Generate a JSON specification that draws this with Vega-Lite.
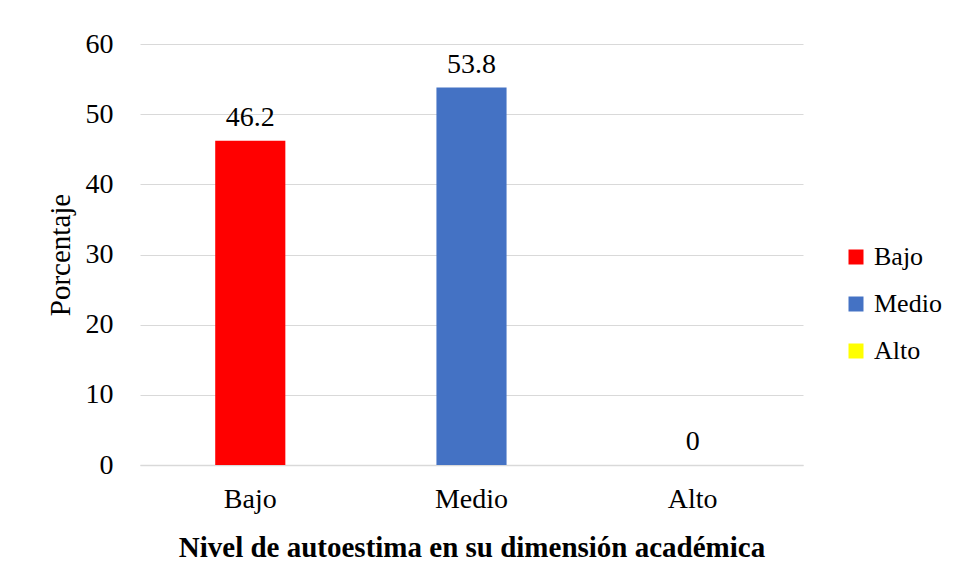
{
  "$schema": "https://vega.github.io/schema/vega-lite/v6.json",
  "width": 663,
  "height": 421,
  "autosize": {"type": "none"},
  "padding": {"left": 140, "top": 44, "right": 152, "bottom": 118},
  "background": "white",
  "config": {
    "font": "Liberation Serif",
    "view": {"stroke": null},
    "axis": {"labelFont": "Liberation Serif", "titleFont": "Liberation Serif", "labelColor": "#000", "titleColor": "#000"},
    "legend": {"labelFont": "Liberation Serif"},
    "text": {"font": "Liberation Serif"}
  },
  "data": {
    "values": [
      {"nivel": "Bajo", "porcentaje": 46.2, "label": "46.2"},
      {"nivel": "Medio", "porcentaje": 53.8, "label": "53.8"},
      {"nivel": "Alto", "porcentaje": 0, "label": "0"}
    ]
  },
  "encoding": {
    "x": {
      "field": "nivel", "type": "nominal", "sort": ["Bajo", "Medio", "Alto"],
      "scale": {"paddingInner": 0.683, "paddingOuter": 0.34},
      "axis": {
        "title": "Nivel de autoestima en su dimensión académica",
        "titleFontSize": 29, "titleFontWeight": "bold", "titlePadding": 20,
        "labelFontSize": 28, "labelAngle": 0, "labelPadding": 20,
        "ticks": false, "domainColor": "#d9d9d9", "domainWidth": 1.5, "grid": false
      }
    },
    "y": {
      "field": "porcentaje", "type": "quantitative",
      "scale": {"domain": [0, 60]},
      "axis": {
        "title": "Porcentaje", "titleFontSize": 29, "titleFontWeight": "normal", "titlePadding": 10,
        "labelFontSize": 28, "labelPadding": 27, "values": [0,10,20,30,40,50,60], "labelOverlap": false,
        "ticks": false, "domain": false, "gridColor": "#d9d9d9", "gridWidth": 1.2
      }
    }
  },
  "layer": [
    {
      "mark": {"type": "bar"},
      "encoding": {
        "color": {
          "field": "nivel", "type": "nominal",
          "scale": {"domain": ["Bajo", "Medio", "Alto"], "range": ["#ff0000", "#4472c4", "#ffff00"]},
          "legend": {
            "title": null, "orient": "none", "legendX": 703, "legendY": 200,
            "symbolType": "square", "symbolSize": 225, "symbolStrokeWidth": 0,
            "labelFontSize": 26, "rowPadding": 21, "labelOffset": 5, "labelColor": "#000"
          }
        }
      }
    },
    {
      "mark": {"type": "text", "baseline": "bottom", "dy": -9, "fontSize": 28, "color": "#000", "font": "Liberation Serif"},
      "encoding": {"text": {"field": "label"}}
    }
  ]
}
